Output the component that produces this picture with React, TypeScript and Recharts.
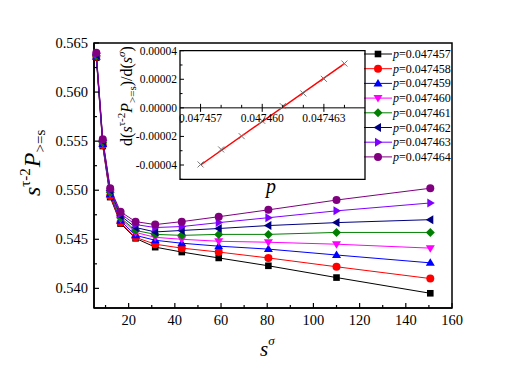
import { LineChart, Line, XAxis, YAxis, ReferenceArea, ReferenceLine, Legend, ComposedChart, Scatter } from 'recharts';

// main plot: s^sigma on x, one series per p
const sSigma = [6, 8.8, 12, 16.5, 23, 31.5, 43, 59, 80.5, 110, 150.6];
const p457 = [0.5635, 0.5545, 0.5493, 0.5466, 0.5451, 0.5442, 0.5437, 0.5431, 0.5423, 0.5411, 0.5395];
const p458 = [0.5636, 0.5546, 0.5494, 0.5467, 0.5452, 0.5445, 0.5441, 0.5437, 0.5431, 0.5422, 0.541];
const p459 = [0.5636, 0.5547, 0.5496, 0.5469, 0.5454, 0.5449, 0.5446, 0.5443, 0.544, 0.5434, 0.5426];
const p460 = [0.5637, 0.5548, 0.5497, 0.5471, 0.5457, 0.5452, 0.545, 0.5448, 0.5447, 0.5445, 0.5441];
const p461 = [0.5637, 0.5549, 0.5498, 0.5472, 0.5459, 0.5455, 0.5454, 0.5455, 0.5455, 0.5457, 0.5457];
const p462 = [0.5638, 0.555, 0.55, 0.5474, 0.5462, 0.54575, 0.5459, 0.5461, 0.5464, 0.5467, 0.547];
const p463 = [0.5639, 0.5551, 0.5501, 0.5476, 0.5465, 0.5462, 0.5463, 0.5467, 0.5472, 0.5479, 0.5487];
const p464 = [0.564, 0.5552, 0.5502, 0.5478, 0.5468, 0.5465, 0.5468, 0.5473, 0.548, 0.549, 0.5502];

const xTicks = [10, 20, 30, 40, 50, 60, 70, 80, 90, 100, 110, 120, 130, 140, 150, 160];
const yTicks = [0.54, 0.5425, 0.545, 0.5475, 0.55, 0.5525, 0.555, 0.5575, 0.56, 0.5625, 0.565];

// inset: slope vs p, with a straight fit
const pValues = [0.047457, 0.047458, 0.047459, 0.04746, 0.047461, 0.047462, 0.047463, 0.047464];
const slopes = [-0.0000396, -0.0000291, -0.0000198, -0.0000091, 0.0000012, 0.0000101, 0.0000203, 0.000031];
const fitP = [0.047457, 0.047464];
const fitSlope = [-0.00004, 0.000031];
const insetXTicks = [0.047457, 0.047458, 0.047459, 0.04746, 0.047461, 0.047462, 0.047463, 0.047464];
const insetYTicks = [-0.00005, -0.00004, -0.00003, -0.00002, -0.00001, 0, 0.00001, 0.00002, 0.00003, 0.00004];

const series = [
  { key: 'p457', values: p457, label: '0.047457', color: '#000000', shape: 'square' },
  { key: 'p458', values: p458, label: '0.047458', color: '#ff0000', shape: 'circle' },
  { key: 'p459', values: p459, label: '0.047459', color: '#0000ff', shape: 'up' },
  { key: 'p460', values: p460, label: '0.047460', color: '#ff00ff', shape: 'down' },
  { key: 'p461', values: p461, label: '0.047461', color: '#008000', shape: 'diamond' },
  { key: 'p462', values: p462, label: '0.047462', color: '#000080', shape: 'left' },
  { key: 'p463', values: p463, label: '0.047463', color: '#8000ff', shape: 'right' },
  { key: 'p464', values: p464, label: '0.047464', color: '#800080', shape: 'circle' },
];

const data = sSigma.map((x, i) => {
  const row: Record<string, number> = { x };
  series.forEach((s) => (row[s.key] = s.values[i]));
  return row;
});
const insetPoints = pValues.map((p, i) => ({ p, slope: slopes[i] }));
const fitRows = fitP.map((p, i) => ({ p, slope: fitSlope[i] }));

const FONT = "'Liberation Serif', 'Times New Roman', serif";
const W = 526;
const H = 370;
const PLOT = { left: 94, top: 43, right: 452, bottom: 308 };
const INSET = { left: 100, top: 38, width: 270, height: 165 };
const IPLOT = { left: 80, top: 12.7, right: 265, bottom: 141.3 };

function Marker({ cx, cy, shape, color }: { cx: number; cy: number; shape: string; color: string }) {
  const r = 4;
  switch (shape) {
    case 'square':
      return <rect x={cx - 3.3} y={cy - 3.3} width={6.6} height={6.6} fill={color} />;
    case 'circle':
      return <circle cx={cx} cy={cy} r={r} fill={color} />;
    case 'up':
      return <polygon points={`${cx},${cy - r - 0.5} ${cx - r - 0.5},${cy + r - 1} ${cx + r + 0.5},${cy + r - 1}`} fill={color} />;
    case 'down':
      return <polygon points={`${cx},${cy + r + 0.5} ${cx - r - 0.5},${cy - r + 1} ${cx + r + 0.5},${cy - r + 1}`} fill={color} />;
    case 'diamond':
      return <polygon points={`${cx},${cy - r - 0.5} ${cx + r + 0.5},${cy} ${cx},${cy + r + 0.5} ${cx - r - 0.5},${cy}`} fill={color} />;
    case 'left':
      return <polygon points={`${cx - r - 0.5},${cy} ${cx + r - 1},${cy - r - 0.5} ${cx + r - 1},${cy + r + 0.5}`} fill={color} />;
    case 'right':
      return <polygon points={`${cx + r + 0.5},${cy} ${cx - r + 1},${cy - r - 0.5} ${cx - r + 1},${cy + r + 0.5}`} fill={color} />;
    default:
      return null;
  }
}

const MainXTick = (props: any) => {
  const { x, payload } = props;
  const v = payload.value;
  const major = v % 20 === 0;
  return (
    <g>
      <line x1={x} x2={x} y1={PLOT.bottom} y2={PLOT.bottom - (major ? 5 : 3)} stroke="#000" strokeWidth={1.2} />
      {major && (
        <text x={x} y={PLOT.bottom + 17} textAnchor="middle" style={{ fontFamily: FONT }} fontSize={14.5} fill="#000">
          {v}
        </text>
      )}
    </g>
  );
};

const MainYTick = (props: any) => {
  const { y, payload } = props;
  const v = payload.value;
  const major = Math.abs(v * 200 - Math.round(v * 200)) < 1e-6;
  return (
    <g>
      <line x1={PLOT.left} x2={PLOT.left + (major ? 5 : 3)} y1={y} y2={y} stroke="#000" strokeWidth={1.2} />
      {major && (
        <text x={PLOT.left - 6} y={y + 5} textAnchor="end" style={{ fontFamily: FONT }} fontSize={14.5} fill="#000">
          {v.toFixed(3)}
        </text>
      )}
    </g>
  );
};

const insetY0 = IPLOT.top + ((0.00004 - 0) / 0.00009) * (IPLOT.bottom - IPLOT.top);

const InsetXTick = (props: any) => {
  const { x, payload } = props;
  const v = payload.value;
  const major = (Math.round(v * 1e6) - 47457) % 3 === 0;
  return (
    <g>
      <line x1={x} x2={x} y1={insetY0 - (major ? 4 : 3)} y2={insetY0 + (major ? 4 : 0)} stroke="#000" strokeWidth={1} />
      {major && (
        <text x={x} y={insetY0 + 14} textAnchor="middle" style={{ fontFamily: FONT }} fontSize={11.5} fill="#000">
          {v.toFixed(6)}
        </text>
      )}
    </g>
  );
};

const InsetYTick = (props: any) => {
  const { y, payload } = props;
  const v = payload.value;
  const major = Math.round(v * 1e5) % 2 === 0;
  return (
    <g>
      <line x1={IPLOT.left} x2={IPLOT.left + (major ? 4 : 2.5)} y1={y} y2={y} stroke="#000" strokeWidth={1} />
      {major && (
        <text x={IPLOT.left - 3} y={y + 4} textAnchor="end" style={{ fontFamily: FONT }} fontSize={11.5} fill="#000">
          {v.toFixed(5)}
        </text>
      )}
    </g>
  );
};

const Cross = (props: any) => {
  const { cx, cy } = props;
  const d = 3;
  return (
    <g stroke="#777" strokeWidth={1}>
      <line x1={cx - d} y1={cy - d} x2={cx + d} y2={cy + d} />
      <line x1={cx - d} y1={cy + d} x2={cx + d} y2={cy - d} />
    </g>
  );
};

const LegendBox = () => (
  <svg width={110} height={125}>
    {series.map((s, i) => {
      const y = 8 + i * 14.7;
      return (
        <g key={s.key}>
          <line x1={4} x2={32} y1={y} y2={y} stroke={s.color} strokeWidth={1} />
          <Marker cx={18} cy={y} shape={s.shape} color={s.color} />
          <text x={33} y={y + 4} style={{ fontFamily: FONT }} fontSize={12} fill="#000">
            <tspan fontStyle="italic">p</tspan>={s.label}
          </text>
        </g>
      );
    })}
  </svg>
);

export default function App() {
  return (
    <div style={{ position: 'absolute', left: 0, top: 0, width: W, height: H, background: '#fff' }}>
      <LineChart width={W} height={H} data={data} margin={{ top: PLOT.top, right: W - PLOT.right, bottom: 0, left: 0 }}>
        <XAxis
          dataKey="x"
          type="number"
          domain={[5, 160]}
          ticks={xTicks}
          interval={0}
          height={H - PLOT.bottom}
          tick={<MainXTick />}
          tickLine={false}
          axisLine={{ stroke: '#000', strokeWidth: 1.5 }}
        />
        <YAxis
          type="number"
          domain={[0.538, 0.565]}
          ticks={yTicks}
          interval={0}
          width={PLOT.left}
          tick={<MainYTick />}
          tickLine={false}
          axisLine={{ stroke: '#000', strokeWidth: 1.5 }}
        />
        <ReferenceArea x1={5} x2={160} y1={0.538} y2={0.565} fill="none" stroke="#000" strokeWidth={1.5} />
        {series.map((s) => (
          <Line
            key={s.key}
            dataKey={s.key}
            stroke={s.color}
            strokeWidth={1}
            isAnimationActive={false}
            dot={(p: any) => <Marker key={`${s.key}-${p.index}`} cx={p.cx} cy={p.cy} shape={s.shape} color={s.color} />}
            activeDot={false}
          />
        ))}
        <Legend
          layout="vertical"
          align="center"
          verticalAlign="middle"
          content={() => <LegendBox />}
          wrapperStyle={{ position: 'absolute', left: 360, top: 46, width: 110, height: 125 }}
        />
      </LineChart>

      <div style={{ position: 'absolute', left: INSET.left, top: INSET.top }}>
        <ComposedChart
          width={INSET.width}
          height={INSET.height}
          margin={{ top: IPLOT.top, right: INSET.width - IPLOT.right, bottom: 0, left: 0 }}
        >
          <XAxis
            dataKey="p"
            type="number"
            domain={[0.047456, 0.047465]}
            ticks={insetXTicks}
            interval={0}
            height={INSET.height - IPLOT.bottom}
            tick={<InsetXTick />}
            tickLine={false}
            axisLine={false}
          />
          <YAxis
            type="number"
            domain={[-0.00005, 0.00004]}
            ticks={insetYTicks}
            interval={0}
            width={IPLOT.left}
            tick={<InsetYTick />}
            tickLine={false}
            axisLine={false}
          />
          <ReferenceArea x1={0.047456} x2={0.047465} y1={-0.00005} y2={0.00004} fill="none" stroke="#000" strokeWidth={1.3} />
          <ReferenceLine y={0} stroke="#000" strokeWidth={1} />
          <Line data={fitRows} dataKey="slope" stroke="#ff0000" strokeWidth={1.5} dot={false} activeDot={false} isAnimationActive={false} />
          <Scatter data={insetPoints} dataKey="slope" shape={<Cross />} isAnimationActive={false} />
        </ComposedChart>
      </div>

      <svg width={W} height={H} style={{ position: 'absolute', left: 0, top: 0, pointerEvents: 'none', fontFamily: FONT }}>
        <text transform="rotate(-90, 40, 196)" x={40} y={196} fill="#000">
          <tspan fontStyle="italic" fontSize={24}>s</tspan>
          <tspan fontSize={15} dy={-10}>τ-2</tspan>
          <tspan fontStyle="italic" fontSize={24} dy={10} dx={1}>P</tspan>
          <tspan fontSize={15} dy={5}>{'>=s'}</tspan>
        </text>
        <text x={260} y={356} fill="#000">
          <tspan fontStyle="italic" fontSize={21}>s</tspan>
          <tspan fontStyle="italic" fontSize={13} dy={-11}>σ</tspan>
        </text>
        <text transform="rotate(-90, 132, 96)" x={132} y={96} textAnchor="middle" fill="#000">
          <tspan fontSize={16}>d(</tspan>
          <tspan fontStyle="italic" fontSize={16}>s</tspan>
          <tspan fontSize={11} dy={-7}>τ-2</tspan>
          <tspan fontStyle="italic" fontSize={16} dy={7}>P</tspan>
          <tspan fontSize={11} dy={4}>{'>=s'}</tspan>
          <tspan fontSize={16} dy={-4}>)/d(</tspan>
          <tspan fontStyle="italic" fontSize={16}>s</tspan>
          <tspan fontStyle="italic" fontSize={11} dy={-7}>σ</tspan>
          <tspan fontSize={16} dy={7}>)</tspan>
        </text>
        <text x={266} y={193} fontStyle="italic" fontSize={20} fill="#000">
          p
        </text>
      </svg>
    </div>
  );
}
